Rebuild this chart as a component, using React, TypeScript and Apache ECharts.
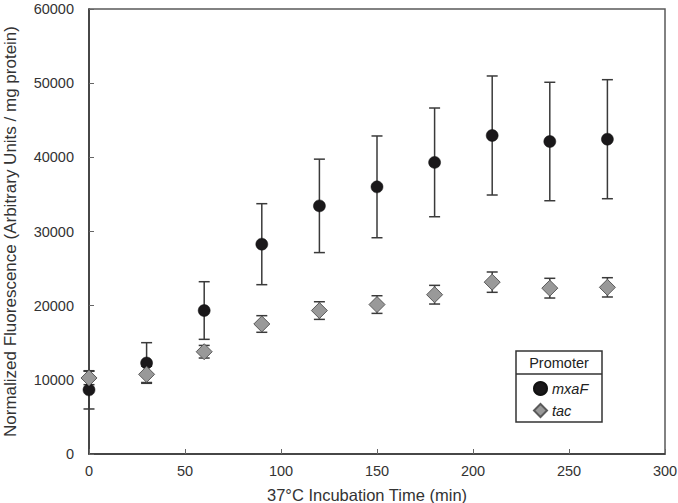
import React, { useEffect, useRef } from "react";
import * as echarts from "echarts";

const times = [0, 30, 60, 90, 120, 150, 180, 210, 240, 270];
const mxaFMean = [8650, 12270, 19345, 28290, 33455, 36020, 39320, 42945, 42135, 42445];
const mxaFErr = [2580, 2740, 3885, 5460, 6300, 6860, 7330, 8025, 7985, 8025];
const tacMean = [10250, 10740, 13790, 17530, 19340, 20150, 21480, 23170, 22360, 22470];
const tacErr = [900, 1100, 850, 1120, 1190, 1190, 1260, 1370, 1330, 1300];
const xTicks = [0, 50, 100, 150, 200, 250, 300];
const yTicks = [0, 10000, 20000, 30000, 40000, 50000, 60000];

const FONT = "Liberation Sans, Arial, Helvetica, sans-serif";

function errData(mean: number[], err: number[]) {
  return times.map((t, i) => [t, mean[i] - err[i], mean[i] + err[i]]);
}

function errRender(params: any, api: any) {
  const x = api.value(0);
  const lo = api.coord([x, api.value(1)]);
  const hi = api.coord([x, api.value(2)]);
  const hw = 5.5;
  const style = { stroke: "#3a3a3a", lineWidth: 1.5 };
  return {
    type: "group",
    children: [
      { type: "line", shape: { x1: lo[0], y1: lo[1], x2: hi[0], y2: hi[1] }, style },
      { type: "line", shape: { x1: lo[0] - hw, y1: lo[1], x2: lo[0] + hw, y2: lo[1] }, style },
      { type: "line", shape: { x1: hi[0] - hw, y1: hi[1], x2: hi[0] + hw, y2: hi[1] }, style },
    ],
  };
}

export default function App() {
  const ref = useRef<HTMLDivElement>(null);
  useEffect(() => {
    document.body.style.margin = "0";
    const chart = echarts.init(ref.current!, null, { renderer: "svg" });
    chart.setOption({
      animation: false,
      backgroundColor: "#ffffff",
      textStyle: { fontFamily: FONT },
      grid: {
        left: 89,
        right: 13,
        top: 9,
        bottom: 49,
        outerBoundsMode: "none",
        containLabel: false,
        show: true,
        borderColor: "#5a5a5a",
        borderWidth: 1.5,
        backgroundColor: "transparent",
      },
      xAxis: {
        type: "value",
        min: xTicks[0],
        max: xTicks[xTicks.length - 1],
        interval: 50,
        name: "37°C Incubation Time (min)",
        nameLocation: "middle",
        nameGap: 32,
        nameTextStyle: { fontSize: 16.5, color: "#333", fontFamily: FONT, padding: [0, 20, 0, 0] },
        axisLine: { show: true, lineStyle: { color: "#333", width: 1.5 } },
        axisTick: { show: true, inside: true, length: 5, lineStyle: { color: "#666" } },
        axisLabel: { fontSize: 14.5, color: "#333", margin: 9, fontFamily: FONT },
        splitLine: { show: false },
      },
      yAxis: {
        type: "value",
        min: yTicks[0],
        max: yTicks[yTicks.length - 1],
        interval: 10000,
        name: "Normalized Fluorescence (Arbitrary Units / mg protein)",
        nameLocation: "middle",
        nameGap: 70,
        nameTextStyle: { fontSize: 17, color: "#333", fontFamily: FONT },
        axisLine: { show: true, lineStyle: { color: "#333", width: 1.5 } },
        axisTick: { show: true, inside: true, length: 5, lineStyle: { color: "#666" } },
        axisLabel: {
          fontSize: 14.5,
          color: "#333",
          margin: 15,
          fontFamily: FONT,
          formatter: (v: number) => String(v),
        },
        splitLine: { show: false },
      },
      legend: {
        orient: "vertical",
        left: 528,
        top: 376,
        itemWidth: 13,
        itemHeight: 13,
        itemGap: 7,
        textStyle: { fontSize: 14.5, fontStyle: "italic", color: "#222", fontFamily: FONT },
        data: ["mxaF", "tac"],
      },
      graphic: [
        {
          type: "rect",
          shape: { x: 516, y: 351, width: 86, height: 71 },
          style: { fill: "#fff", stroke: "#333", lineWidth: 1.5 },
          z: 0,
        },
        {
          type: "line",
          shape: { x1: 516, y1: 374, x2: 602, y2: 374 },
          style: { stroke: "#333", lineWidth: 1.5 },
          z: 1,
        },
        {
          type: "text",
          x: 559,
          y: 363,
          style: {
            text: "Promoter",
            fontSize: 14.5,
            fill: "#222",
            fontFamily: FONT,
            align: "center",
            verticalAlign: "middle",
          },
          z: 1,
        },
      ],
      series: [
        {
          name: "mxaF-err",
          type: "custom",
          renderItem: errRender,
          data: errData(mxaFMean, mxaFErr),
          z: 1,
          silent: true,
        },
        {
          name: "tac-err",
          type: "custom",
          renderItem: errRender,
          data: errData(tacMean, tacErr),
          z: 1,
          silent: true,
        },
        {
          name: "mxaF",
          type: "scatter",
          symbol: "circle",
          symbolSize: 12,
          itemStyle: { color: "#1a181a", borderColor: "#111", borderWidth: 0.5, opacity: 1 },
          data: times.map((t, i) => [t, mxaFMean[i]]),
          z: 3,
        },
        {
          name: "tac",
          type: "scatter",
          symbol: "diamond",
          symbolSize: 16,
          itemStyle: { color: "#999999", borderColor: "#5a5a5a", borderWidth: 1, opacity: 1 },
          data: times.map((t, i) => [t, tacMean[i]]),
          z: 4,
        },
      ],
    });
    return () => chart.dispose();
  }, []);
  return <div ref={ref} style={{ width: 678, height: 503 }} />;
}
